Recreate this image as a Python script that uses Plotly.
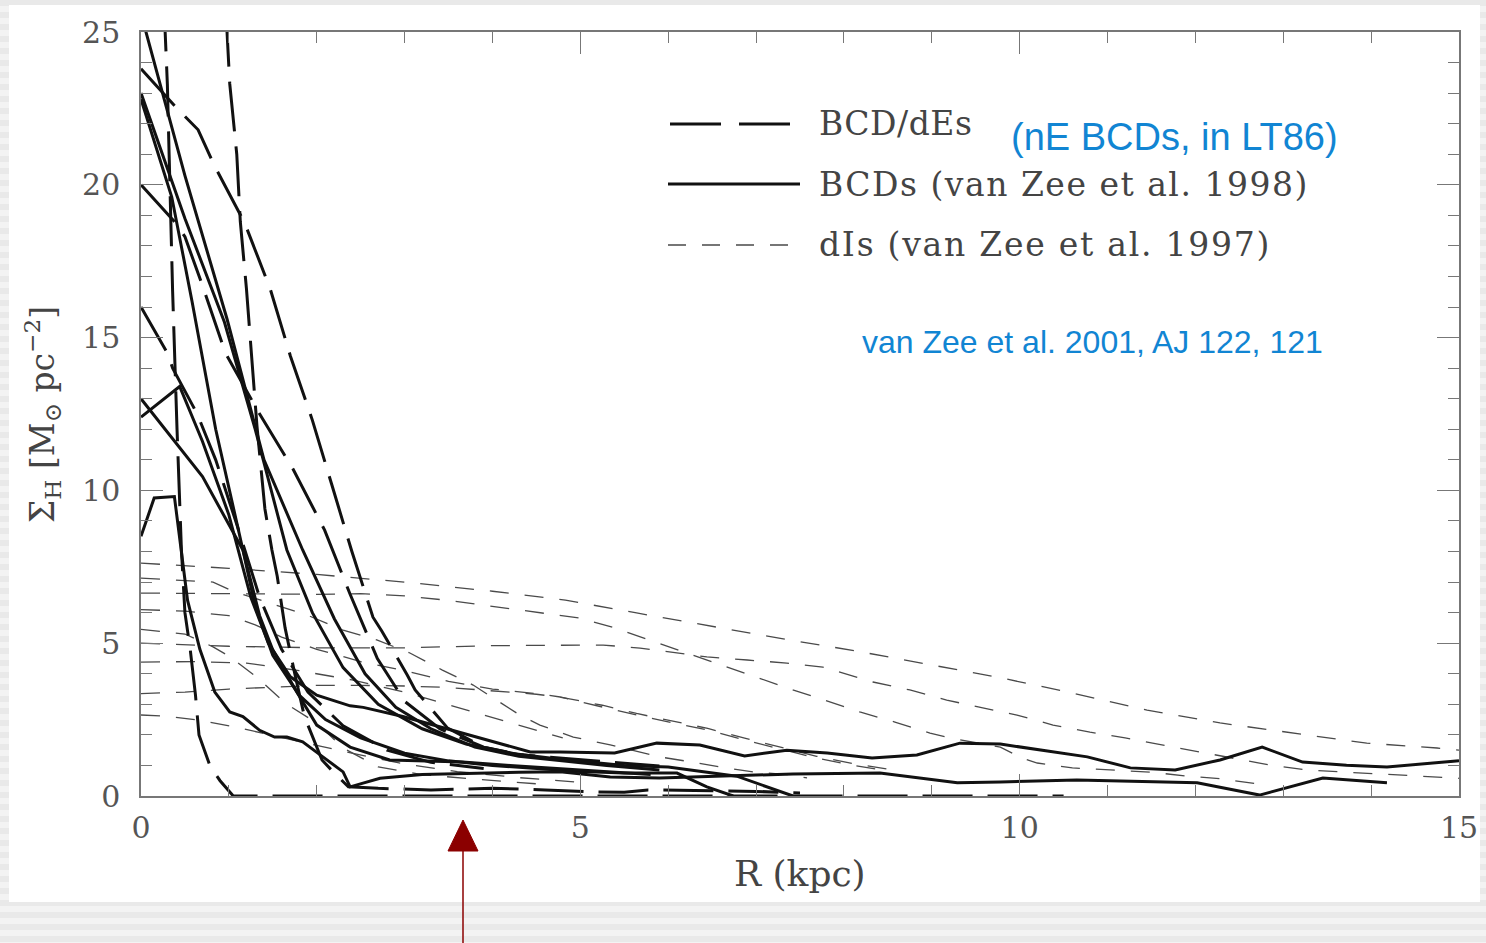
import plotly.graph_objects as go

# ---------------- data (R in kpc, Sigma_H in Msun pc^-2) ----------------
# BCD/dEs (thick long-dashed)
bcdde1_r = [0.26, 0.30, 0.32, 0.36, 0.41, 0.46, 0.50, 0.56, 0.62, 0.66, 0.79, 0.90, 1.05, 3.0, 6.0, 10.5]
bcdde1_s = [26.0, 23.3, 21.0, 16.5, 12.0, 8.05, 6.0, 4.8, 3.3, 2.0, 0.95, 0.5, 0.0, 0.0, 0.0, 0.0]
bcdde2_r = [0.97, 1.01, 1.09, 1.13, 1.20, 1.26, 1.32, 1.41, 1.49, 1.55, 1.64, 1.75, 1.86, 2.06, 2.20, 2.36,
            2.70, 3.30, 4.00, 4.60, 5.20, 5.50, 5.77, 6.30, 7.00, 7.50]
bcdde2_s = [25.5, 23.3, 21.0, 18.8, 16.6, 14.4, 12.1, 9.4, 8.05, 7.2, 5.5, 4.0, 2.6, 1.18, 0.75, 0.3,
            0.25, 0.2, 0.25, 0.2, 0.13, 0.12, 0.2, 0.18, 0.15, 0.1]
bcdde3_r = [0.0, 0.41, 0.65, 0.84, 1.18, 1.47, 1.70, 1.95, 2.17, 2.40, 2.64, 2.74, 3.03, 3.12, 3.49, 3.90,
            4.30, 4.77, 5.36, 5.90]
bcdde3_s = [23.8, 22.5, 21.8, 20.6, 18.75, 16.6, 14.4, 12.3, 10.2, 8.0, 5.85, 5.4, 3.96, 3.47, 2.22, 1.6,
            1.35, 1.24, 1.11, 0.98]
bcdde4_r = [0.0, 0.30, 0.36, 0.64, 0.85, 1.10, 1.35, 1.60, 1.90, 2.30, 2.80, 3.30, 3.90]
bcdde4_s = [16.0, 14.5, 14.0, 12.5, 11.0, 8.8, 6.5, 4.8, 3.4, 2.3, 1.5, 1.1, 0.9]
bcdde5_r = [0.0, 0.41, 0.50, 0.70, 0.96, 1.33, 1.73, 2.09, 2.38, 2.69, 3.00, 3.40, 3.90, 4.40]
bcdde5_s = [20.0, 18.7, 18.3, 16.7, 14.5, 12.6, 10.7, 8.7, 6.6, 4.5, 3.1, 2.2, 1.6, 1.3]

# BCDs (van Zee et al. 1998) (thick solid)
bcd1_r = [0.0, 0.5, 0.98, 1.4, 1.84, 2.2, 2.55, 2.9, 3.3, 3.8, 4.3, 4.77, 5.3, 5.9]
bcd1_s = [25.6, 20.3, 15.6, 11.0, 8.05, 5.8, 4.0, 2.9, 2.2, 1.6, 1.3, 1.15, 1.0, 0.85]
bcd2_r = [0.0, 0.5, 0.95, 1.3, 1.66, 1.95, 2.3, 2.7, 3.2, 3.7, 4.2, 4.77, 5.5, 6.0, 6.78, 7.12, 7.42]
bcd2_s = [23.0, 18.9, 15.5, 12.0, 8.05, 6.0, 4.2, 3.0, 2.2, 1.7, 1.4, 1.2, 1.0, 0.95, 0.65, 0.3, 0.0]
bcd3_r = [0.0, 0.35, 0.58, 0.85, 1.16, 1.3, 1.5, 1.8, 2.1, 2.5, 3.0, 3.5, 4.0, 4.5, 5.0, 5.5, 6.1, 6.44, 6.74]
bcd3_s = [22.8, 19.6, 16.2, 12.0, 8.05, 6.2, 4.6, 3.3, 2.5, 1.9, 1.4, 1.15, 1.0, 0.9, 0.8, 0.75, 0.75, 0.3, 0.0]
bcd4_r = [0.0, 0.7, 1.16, 1.35, 1.5, 1.78, 2.0, 2.38, 2.83, 3.66, 4.2, 4.77, 5.3, 5.8]
bcd4_s = [13.0, 10.45, 8.05, 5.9, 4.78, 3.37, 2.32, 1.6, 1.18, 1.11, 1.0, 0.9, 0.8, 0.7]
bcd5_r = [0.0, 0.44, 0.7, 1.0, 1.25, 1.45, 1.7, 2.0, 2.38, 2.53, 2.98, 3.52, 4.05, 4.43, 4.77, 5.39, 5.87,
          6.36, 6.87, 7.35, 7.81, 8.32, 8.83, 9.32, 9.78, 10.27, 10.77, 11.26, 11.77, 12.28, 12.76, 13.22,
          13.72, 14.18, 14.67, 15.0]
bcd5_s = [12.4, 13.4, 11.6, 9.2, 6.5, 5.0, 3.9, 3.3, 2.95, 2.9, 2.6, 2.16, 1.73, 1.44, 1.44, 1.41, 1.73,
          1.67, 1.31, 1.5, 1.41, 1.24, 1.34, 1.73, 1.7, 1.5, 1.28, 0.92, 0.85, 1.18, 1.6, 1.11,
          1.01, 0.95, 1.08, 1.15]
bcd6_r = [0.0, 0.15, 0.38, 0.44, 0.53, 0.67, 0.84, 1.01, 1.16, 1.35, 1.52, 1.66, 1.84, 2.07, 2.3, 2.38,
          2.72, 3.2, 3.8, 4.3, 4.77, 5.34, 5.9, 6.74, 7.42, 8.41, 9.29, 9.78, 10.65, 12.02, 12.73, 13.45, 14.18]
bcd6_s = [8.5, 9.75, 9.8, 8.4, 6.4, 4.8, 3.4, 2.75, 2.6, 2.15, 1.93, 1.93, 1.77, 1.28, 0.79, 0.3,
          0.58, 0.7, 0.75, 0.78, 0.79, 0.62, 0.59, 0.65, 0.72, 0.75, 0.43, 0.46, 0.52, 0.43, 0.03, 0.59, 0.43]

# dIs (van Zee et al. 1997) (thin dashed)
di1_r = [0, 1, 2, 3, 4, 4.83, 5.64, 6.48, 7.31, 8.13, 8.95, 9.78, 10.6, 11.45, 12.28, 13.11, 13.95, 14.75, 15.0]
di1_s = [7.62, 7.45, 7.25, 7.0, 6.7, 6.41, 5.99, 5.56, 5.14, 4.75, 4.32, 3.87, 3.37, 2.81, 2.39, 2.06, 1.73, 1.57, 1.5]
di2_r = [0, 1, 2, 2.5, 3.0, 3.5, 4.0, 4.5, 5.0, 5.39, 5.79, 6.19, 6.59, 6.99, 7.39, 7.78, 8.18, 8.58, 8.98,
         9.2, 9.78, 10.03, 10.2, 10.6, 11.0, 11.5, 11.9, 12.3, 12.8]
di2_s = [6.64, 6.62, 6.6, 6.62, 6.55, 6.4, 6.2, 6.0, 5.82, 5.5, 5.1, 4.68, 4.29, 3.89, 3.5, 3.14, 2.75, 2.42, 2.06,
         1.9, 1.6, 1.24, 1.08, 0.92, 0.85, 0.78, 0.65, 0.56, 0.36]
di3_r = [0, 1, 2, 3, 4, 4.77, 5.26, 5.68, 6.02, 6.44, 6.9, 7.35, 7.76, 7.95, 8.33, 8.75, 9.17, 9.58, 9.97,
         10.38, 10.8, 11.2, 11.62, 12.03, 12.43, 12.85, 13.27, 13.68, 14.1, 14.52, 15.0]
di3_s = [5.0, 4.9, 4.85, 4.85, 4.92, 4.94, 4.94, 4.84, 4.71, 4.55, 4.45, 4.35, 4.22, 4.06, 3.73, 3.47, 3.14, 2.88, 2.65,
         2.32, 2.09, 1.9, 1.67, 1.44, 1.24, 1.01, 0.85, 0.79, 0.72, 0.65, 0.58]
di4_r = [0, 0.82, 1.05, 1.66, 1.89, 2.3, 2.69, 3.06, 3.43, 3.78, 4.31, 4.54, 4.92, 5.34, 5.9, 6.34, 6.59, 6.97, 7.39, 7.58]
di4_s = [7.13, 7.0, 6.7, 6.15, 5.92, 5.43, 5.1, 4.68, 4.12, 3.63, 2.65, 2.32, 1.93, 1.67, 1.28, 1.08, 0.95, 0.79, 0.69, 0.59]
di5_r = [0, 0.5, 1.0, 1.3, 1.6, 2.0, 2.5, 3.0, 3.5, 4.0, 4.5, 4.77, 5.0, 5.25, 5.64, 6.06, 6.45, 6.87, 7.27, 7.69, 8.09, 8.5]
di5_s = [6.1, 6.05, 5.9, 5.6, 5.2, 4.8, 4.4, 4.1, 3.75, 3.5, 3.35, 3.24, 3.08, 2.91, 2.65, 2.39, 2.16, 1.83, 1.54, 1.24, 1.01, 0.82]
di6_r = [0, 0.5, 1, 1.5, 2, 2.5, 3, 3.5, 4, 4.5, 4.8, 5.25, 5.64, 6.06, 6.45, 6.87, 7.27, 7.69, 8.09, 8.5]
di6_s = [3.35, 3.4, 3.5, 3.55, 3.62, 3.62, 3.6, 3.55, 3.45, 3.33, 3.22, 2.97, 2.7, 2.45, 2.21, 1.89, 1.6, 1.3, 1.07, 0.88]
di7_r = [0, 0.5, 0.82, 1.0, 1.33, 1.64, 2.0, 2.3, 2.7, 3.2, 3.8, 4.5]
di7_s = [5.45, 5.3, 4.88, 4.58, 3.86, 3.04, 2.39, 1.57, 0.95, 0.7, 0.55, 0.4]
di8_r = [0, 0.25, 0.65, 1.07, 1.47, 1.89, 2.4, 3.0, 3.6, 4.3, 5.0]
di8_s = [2.65, 2.62, 2.49, 2.26, 2.0, 1.73, 1.4, 1.05, 0.8, 0.6, 0.45]
di9_r = [0, 0.6, 1.2, 1.8, 2.4, 3.0, 3.6, 4.2, 4.8]
di9_s = [4.38, 4.4, 4.35, 4.1, 3.8, 3.4, 2.9, 2.4, 1.9]

x_tickvals = [0, 5, 10, 15]
y_tickvals = [0, 5, 10, 15, 20, 25]

legend_labels = ["BCD/dEs", "BCDs (van Zee et al. 1998)", "dIs (van Zee et al. 1997)"]

# ---------------- figure ----------------
W, H = 1486, 943
L, R, T, B = 141, 27, 32, 147
PW, PH = W - L - R, H - T - B


def px(x):
    return (x - L) / PW


def py(y):
    return (H - B - y) / PH


DI_STYLE = dict(color="#4a4a4a", width=1.3, dash="19px,16px")
BCDDE_STYLE = dict(color="#111111", width=3.0, dash="50px,15px")
BCD_STYLE = dict(color="#111111", width=3.0)

fig = go.Figure()

dis = [(di1_r, di1_s), (di2_r, di2_s), (di3_r, di3_s), (di4_r, di4_s), (di5_r, di5_s),
       (di6_r, di6_s), (di7_r, di7_s), (di8_r, di8_s), (di9_r, di9_s)]
bcddes = [(bcdde1_r, bcdde1_s), (bcdde2_r, bcdde2_s), (bcdde3_r, bcdde3_s),
          (bcdde4_r, bcdde4_s), (bcdde5_r, bcdde5_s)]
bcds = [(bcd1_r, bcd1_s), (bcd2_r, bcd2_s), (bcd3_r, bcd3_s), (bcd4_r, bcd4_s),
        (bcd5_r, bcd5_s), (bcd6_r, bcd6_s)]

for r, s in dis:
    fig.add_trace(go.Scatter(x=r, y=s, mode="lines", line=DI_STYLE, showlegend=False, hoverinfo="skip"))
for r, s in bcddes:
    fig.add_trace(go.Scatter(x=r, y=s, mode="lines", line=BCDDE_STYLE, showlegend=False, hoverinfo="skip"))
for r, s in bcds:
    fig.add_trace(go.Scatter(x=r, y=s, mode="lines", line=BCD_STYLE, showlegend=False, hoverinfo="skip"))

shapes = []
# striped slide background
for yy in range(0, H, 12):
    shapes.append(dict(type="rect", xref="paper", yref="paper", layer="below",
                       x0=px(0), x1=px(W), y0=py(yy), y1=py(yy + 6),
                       fillcolor="#e9e9e9", line=dict(width=0)))
# white figure card
shapes.append(dict(type="rect", xref="paper", yref="paper", layer="below",
                   x0=px(9), x1=px(1480), y0=py(5), y1=py(902),
                   fillcolor="white", line=dict(width=0)))
# legend samples
shapes.append(dict(type="line", xref="paper", yref="paper", x0=px(670), x1=px(790), y0=py(124), y1=py(124),
                   line=dict(color="#111111", width=3, dash="51px,18px")))
shapes.append(dict(type="line", xref="paper", yref="paper", x0=px(668), x1=px(800), y0=py(184), y1=py(184),
                   line=dict(color="#111111", width=3)))
shapes.append(dict(type="line", xref="paper", yref="paper", x0=px(668), x1=px(800), y0=py(245), y1=py(245),
                   line=dict(color="#4a4a4a", width=1.3, dash="18px,16px")))
# red arrow
shapes.append(dict(type="line", xref="paper", yref="paper", x0=px(463), x1=px(463), y0=py(848), y1=py(943),
                   line=dict(color="#8b0000", width=1.5)))
shapes.append(dict(type="path", xref="paper", yref="paper",
                   path="M {a},{b} L {c},{d} L {e},{d} Z".format(
                       a=px(463), b=py(820), c=px(448), d=py(851), e=px(478)),
                   fillcolor="#8b0000", line=dict(color="#8b0000", width=1)))

serif = "DejaVu Serif"
ann = []
leg_y = [124, 184, 245]
leg_spacing = [0.5, 1.5, 1.75]
for lab, yy, sp in zip(legend_labels, leg_y, leg_spacing):
    ann.append(dict(xref="paper", yref="paper", x=px(817), y=py(yy),
                    text='<span style="letter-spacing:{}px">{}</span>'.format(sp, lab), showarrow=False,
                    xanchor="left", yanchor="middle", font=dict(family=serif, size=33, color="#444444")))
ann.append(dict(xref="paper", yref="paper", x=px(1009), y=py(137), text="(nE BCDs, in LT86)", showarrow=False,
                xanchor="left", yanchor="middle", font=dict(family="Liberation Sans", size=38, color="#1185d3")))
ann.append(dict(xref="paper", yref="paper", x=px(860), y=py(342), text="van Zee et al. 2001, AJ 122, 121",
                showarrow=False, xanchor="left", yanchor="middle",
                font=dict(family="Liberation Sans", size=32, color="#1185d3")))
ann.append(dict(xref="paper", yref="paper", x=px(800), y=py(873), text="R (kpc)", showarrow=False,
                xanchor="center", yanchor="middle", font=dict(family=serif, size=36, color="#444444")))
ann.append(dict(xref="paper", yref="paper", x=px(42), y=py(415),
                text="Σ<sub>H</sub> [M<sub>⊙</sub> pc<sup>−2</sup>]", showarrow=False, textangle=-90,
                xanchor="center", yanchor="middle", font=dict(family=serif, size=33, color="#444444")))

axis_common = dict(
    showgrid=False, zeroline=False, showline=True, linecolor="#777777", linewidth=1.5,
    mirror="ticks", ticks="inside", ticklen=22, tickwidth=1.3, tickcolor="#777777",
    tickfont=dict(family=serif, size=30, color="#555555"), automargin=False,
    minor=dict(dtick=1, ticks="inside", ticklen=11, tickwidth=1.3, tickcolor="#777777", showgrid=False),
)

fig.update_layout(
    width=W, height=H,
    margin=dict(l=L, r=R, t=T, b=B, autoexpand=False),
    paper_bgcolor="#f3f3f3", plot_bgcolor="white",
    xaxis=dict(range=[0, 15], tickvals=x_tickvals, ticktext=[str(v) for v in x_tickvals],
               ticklabelstandoff=4, **axis_common),
    yaxis=dict(range=[0, 25], tickvals=y_tickvals, ticktext=[str(v) for v in y_tickvals],
               ticklabelstandoff=13, **axis_common),
    shapes=shapes, annotations=ann, showlegend=False,
)

fig.write_html("out.html")
